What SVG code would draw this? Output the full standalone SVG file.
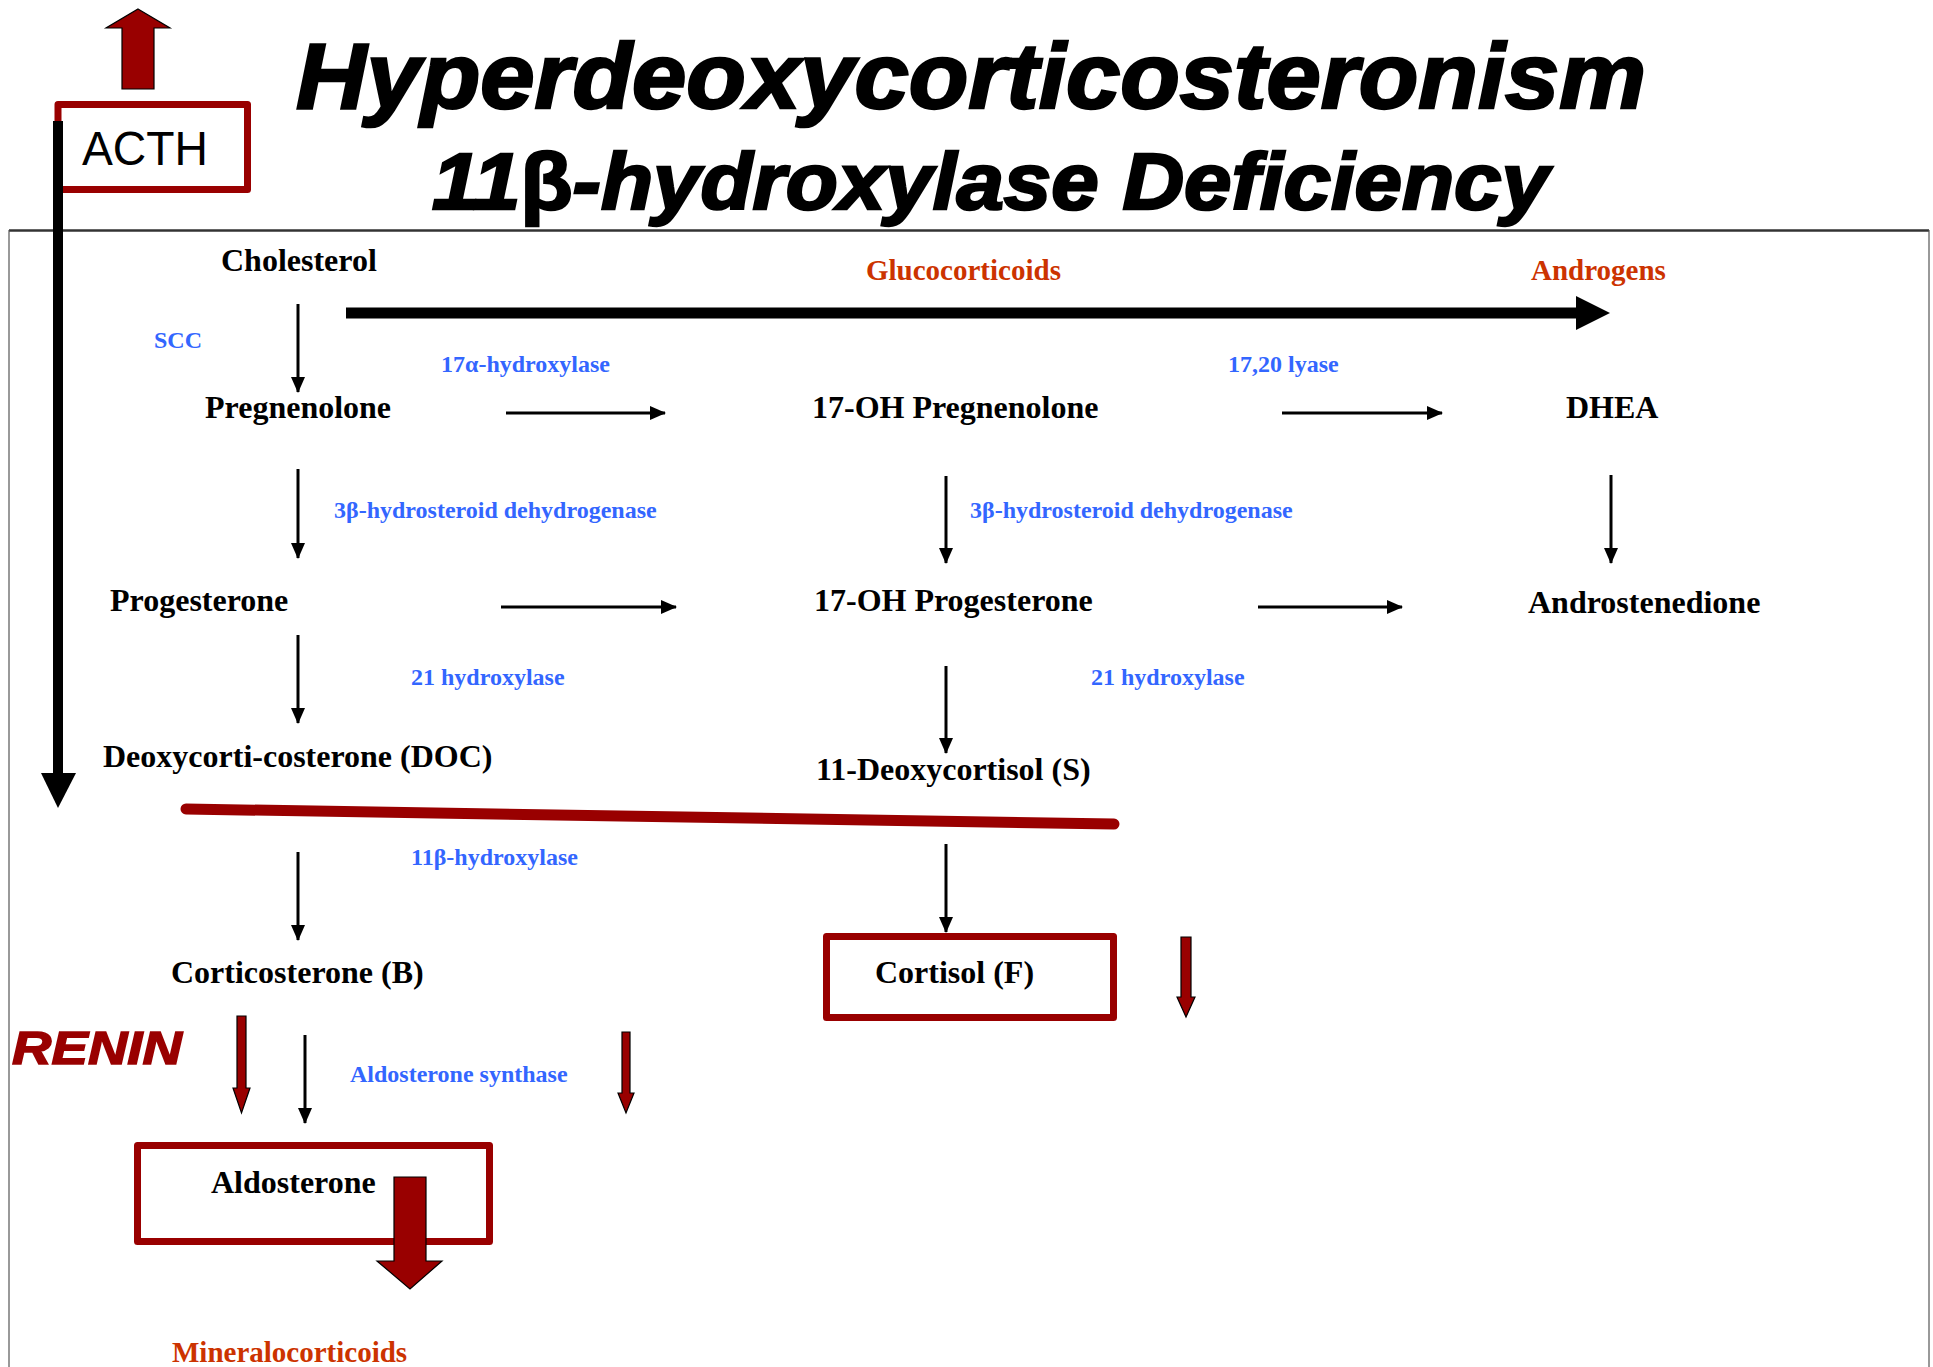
<svg xmlns="http://www.w3.org/2000/svg" width="1933" height="1367" viewBox="0 0 1933 1367">
<defs>
<style>
.t{font-family:"Liberation Serif","Times New Roman",serif;font-weight:bold;font-size:32px;fill:#000}
.e{font-family:"Liberation Serif","Times New Roman",serif;font-weight:bold;font-size:24px;fill:#3366FF}
.c{font-family:"Liberation Serif","Times New Roman",serif;font-weight:bold;font-size:29px;fill:#CC3300}
.h{font-family:"Liberation Sans",Arial,sans-serif;font-weight:bold;font-style:italic;fill:#000;stroke:#000;stroke-width:2.5}
.box{fill:none;stroke:#990000;stroke-width:7;stroke-linejoin:round}
.ar{stroke:#000;stroke-width:3;fill:none;marker-end:url(#ah)}
.ra{fill:#990000;stroke:#000;stroke-width:1.2;stroke-linejoin:miter}
</style>
<marker id="ah" markerUnits="userSpaceOnUse" markerWidth="16" markerHeight="16" viewBox="0 0 16 16" refX="15" refY="8" orient="auto">
<path d="M0,1 L16,8 L0,15 z" fill="#000"/>
</marker>
</defs>
<rect width="1933" height="1367" fill="#fff"/>
<!-- frame -->
<line x1="9" y1="230.5" x2="1929" y2="230.5" stroke="#333" stroke-width="2.5"/>
<line x1="9" y1="230" x2="9" y2="1367" stroke="#555" stroke-width="1.2"/>
<line x1="1929" y1="230" x2="1929" y2="1367" stroke="#555" stroke-width="1.2"/>
<!-- title -->
<g id="title">
<text class="h" x="296" y="108" font-size="92" textLength="1350" lengthAdjust="spacingAndGlyphs">Hyperdeoxycorticosteronism</text>
<text class="h" x="432" y="209" font-size="80" textLength="1117" lengthAdjust="spacingAndGlyphs">11<tspan font-style="normal">β</tspan>-hydroxylase Deficiency</text>
</g>
<g id="acth">
<rect class="box" x="58" y="104.5" width="189.5" height="85"/>
<text x="82" y="165" font-family="Liberation Sans, Arial, sans-serif" font-size="49" textLength="126" lengthAdjust="spacingAndGlyphs">ACTH</text>
<polygon class="ra" points="138,9 170,28 154,28 154,89 122,89 122,28 106,28"/>
</g>
<g id="acth-down">
<rect x="53" y="121" width="10" height="653" fill="#000"/>
<polygon points="41,773 76,773 58,808" fill="#000"/>
</g>
<g id="pathway-arrow">
<rect x="346" y="307.5" width="1231" height="11" fill="#000"/>
<polygon points="1576,296 1610,313 1576,330" fill="#000"/>
</g>
<g id="labels">
<text class="c" x="866" y="280">Glucocorticoids</text>
<text class="c" x="1531" y="280">Androgens</text>
<text class="c" x="172" y="1362">Mineralocorticoids</text>
</g>
<g id="enzymes">
<text class="e" x="154" y="348">SCC</text>
<text class="e" x="441" y="372">17α-hydroxylase</text>
<text class="e" x="1228" y="372">17,20 lyase</text>
<text class="e" x="334" y="518">3β-hydrosteroid dehydrogenase</text>
<text class="e" x="970" y="518">3β-hydrosteroid dehydrogenase</text>
<text class="e" x="411" y="685">21 hydroxylase</text>
<text class="e" x="1091" y="685">21 hydroxylase</text>
<text class="e" x="411" y="865">11β-hydroxylase</text>
<text class="e" x="350" y="1082">Aldosterone synthase</text>
</g>
<g id="cholesterol"><text class="t" x="221" y="271">Cholesterol</text></g>
<g id="pregnenolone"><text class="t" x="205" y="418">Pregnenolone</text></g>
<g id="oh-pregnenolone"><text class="t" x="812" y="418">17-OH Pregnenolone</text></g>
<g id="dhea"><text class="t" x="1566" y="418">DHEA</text></g>
<g id="progesterone"><text class="t" x="110" y="611">Progesterone</text></g>
<g id="oh-progesterone"><text class="t" x="814" y="611">17-OH Progesterone</text></g>
<g id="androstenedione"><text class="t" x="1528" y="613">Androstenedione</text></g>
<g id="doc"><text class="t" x="103" y="767">Deoxycorti-costerone (DOC)</text></g>
<g id="deoxycortisol"><text class="t" x="816" y="780">11-Deoxycortisol (S)</text></g>
<g id="corticosterone"><text class="t" x="171" y="983">Corticosterone (B)</text></g>
<g id="cortisol">
<rect class="box" x="826.5" y="936.5" width="287" height="81"/>
<text class="t" x="875" y="983">Cortisol (F)</text>
</g>
<g id="aldosterone">
<rect class="box" x="137.5" y="1145.5" width="352" height="96"/>
<text class="t" x="211" y="1193">Aldosterone</text>
</g>
<g id="renin">
<text x="12" y="1064" font-family="Liberation Sans, Arial, sans-serif" font-weight="bold" font-style="italic" font-size="47" fill="#990000" stroke="#990000" stroke-width="1.5" textLength="170" lengthAdjust="spacingAndGlyphs">RENIN</text>
</g>
<g id="connectors">
<line class="ar" x1="298" y1="304" x2="298" y2="392"/>
<line class="ar" x1="298" y1="469" x2="298" y2="558"/>
<line class="ar" x1="298" y1="635" x2="298" y2="723"/>
<line class="ar" x1="298" y1="852" x2="298" y2="940"/>
<line class="ar" x1="305" y1="1035" x2="305" y2="1123"/>
<line class="ar" x1="946" y1="476" x2="946" y2="563"/>
<line class="ar" x1="946" y1="666" x2="946" y2="753"/>
<line class="ar" x1="946" y1="844" x2="946" y2="932"/>
<line class="ar" x1="1611" y1="475" x2="1611" y2="563"/>
<line class="ar" x1="506" y1="413" x2="665" y2="413"/>
<line class="ar" x1="1282" y1="413" x2="1442" y2="413"/>
<line class="ar" x1="501" y1="607" x2="676" y2="607"/>
<line class="ar" x1="1258" y1="607" x2="1402" y2="607"/>
<line x1="186" y1="809" x2="1114" y2="824" stroke="#990000" stroke-width="11" stroke-linecap="round"/>
</g>
<g id="red-arrows">
<polygon class="ra" points="237,1016 246,1016 246,1088 250,1088 241.5,1113 233,1088 237,1088"/>
<polygon class="ra" points="622,1032 630,1032 630,1093 634,1093 626,1113 618,1093 622,1093"/>
<polygon class="ra" points="1181,937 1191,937 1191,997 1195,997 1186,1017 1177,997 1181,997"/>
<polygon class="ra" points="394,1177 426,1177 426,1261 442,1261 410,1289 377,1261 394,1261"/>
</g>
</svg>
